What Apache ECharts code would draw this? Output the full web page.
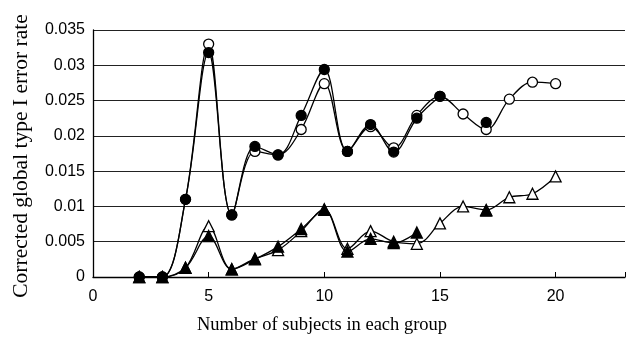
<!DOCTYPE html>
<html><head><meta charset="utf-8">
<script src="https://cdn.jsdelivr.net/npm/echarts@6/dist/echarts.min.js"></script>
<style>html,body{margin:0;padding:0;background:#fff}#c{width:628px;height:337px}</style>
</head><body><div id="c"></div>
<script>
const subjects = [2,3,4,5,6,7,8,9,10,11,12,13,14,15,16,17,18,19,20];
const filledCircle = [0,0,0.011,0.0318,0.0088,0.0185,0.0173,0.0229,0.0294,0.0178,0.0216,0.0177,0.0225,0.0256,null,0.0219,null,null,null];
const openCircle   = [0,0,0.011,0.0330,0.0088,0.0178,0.0173,0.0209,0.0274,0.0178,0.0213,0.0183,0.0229,0.0256,0.0231,0.0209,0.0252,0.0276,0.0274];
const filledTri    = [0,0,0.0013,0.0058,0.0011,0.0025,0.0043,0.0068,0.0095,0.0036,0.0054,0.0048,0.0063,null,null,0.0094,null,null,null];
const openTri      = [0,0,0.0013,0.0072,0.0011,0.0026,0.0038,0.0065,0.0096,0.0040,0.0065,0.0050,0.0047,0.0076,0.0100,0.0095,0.0113,0.0118,0.01425];
const yTicks = ['0','0.005','0.01','0.015','0.02','0.025','0.03','0.035'];
const xTitle = 'Number of subjects in each group';
const yTitle = 'Corrected global type I error rate';

function pairs(arr){ return arr.map((v,i)=> [subjects[i], v===null ? '-' : v]); }
function mk(name, arr, symbol, filled, z){
  return {name, type:'line', data:pairs(arr), smooth:0.35, connectNulls:false, showSymbol:true,
    symbol, symbolSize: symbol==='circle'?10:11,
    lineStyle:{color:'#000', width:1.3}, itemStyle:{color: filled?'#000':'#fff', borderColor:'#000', borderWidth:1.3},
    z, animation:false};
}
const chart = echarts.init(document.getElementById('c'));
chart.setOption({
  animation:false,
  grid:{left:93, top:30, right:0, bottom:60, containLabel:false},
  xAxis:{type:'value', min:0, max:23, interval:5,
    axisLine:{lineStyle:{color:'#000', width:1.3}},
    axisTick:{inside:true, length:5, lineStyle:{color:'#000'}},
    axisLabel:{color:'#000', fontSize:16, fontFamily:'Liberation Sans', margin:12,
      formatter:v=> (v%5===0 && v<=20)? String(v):''},
    splitLine:{show:false}},
  yAxis:{type:'value', min:0, max:0.035, interval:0.005,
    axisLine:{show:true, lineStyle:{color:'#000', width:1.3}},
    axisTick:{show:false},
    axisLabel:{color:'#000', fontSize:16, fontFamily:'Liberation Sans', margin:8,
      formatter:(v)=>{ const i=Math.round(v/0.005); return yTicks[i]; }},
    splitLine:{show:true, lineStyle:{color:'#222', width:1.2}}},
  series:[
    mk('open circle', openCircle, 'circle', false, 3),
    mk('filled circle', filledCircle, 'circle', true, 4),
    mk('open triangle', openTri, 'triangle', false, 5),
    mk('filled triangle', filledTri, 'triangle', true, 6)
  ],
  graphic:[
    {type:'text', x:322, y:325, style:{text:xTitle, font:'18.5px "Liberation Serif"', fill:'#000', textAlign:'center', textVerticalAlign:'middle'}},
    {type:'text', rotation:Math.PI/2, x:21, y:156, style:{text:yTitle, font:'21.5px "Liberation Serif"', fill:'#000', textAlign:'center', textVerticalAlign:'middle'}}
  ]
});
</script></body></html>
